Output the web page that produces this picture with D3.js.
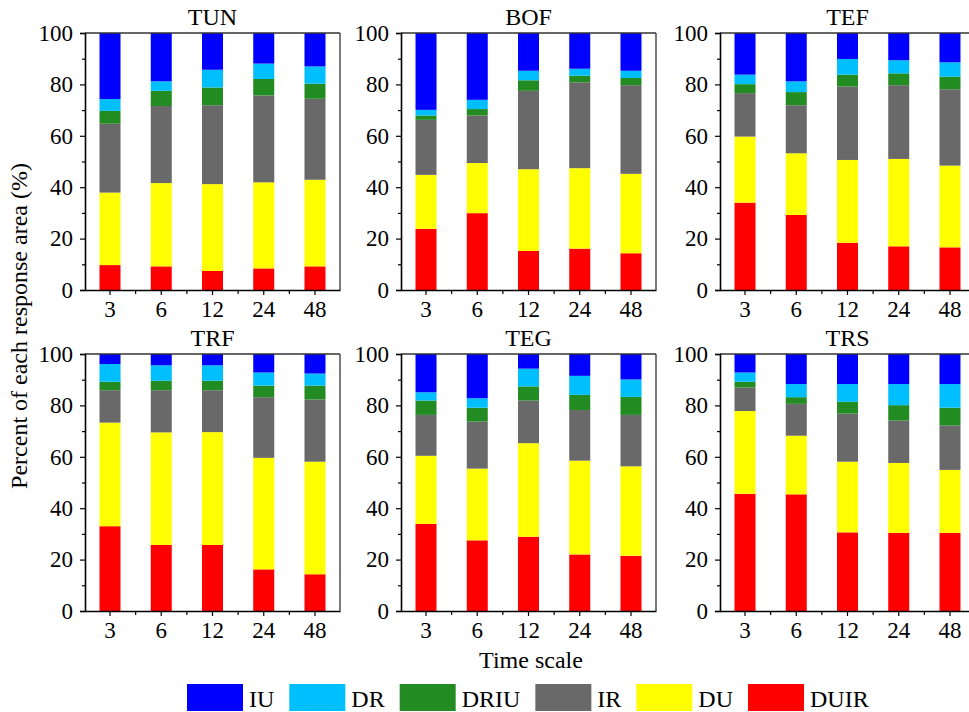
<!DOCTYPE html>
<html>
<head>
<meta charset="utf-8">
<script src="https://cdn.jsdelivr.net/npm/d3@7"></script>
<style>
  body { margin: 0; background: #fff; }
  svg { display: block; }
  text { font-family: "Liberation Serif", "Times New Roman", serif; fill: #000; }
</style>
</head>
<body>
<svg id="chart" width="969" height="712"></svg>
<script>
// ---------------- DATA ----------------
const timeScales = ["3", "6", "12", "24", "48"];
const panels = ["TUN", "BOF", "TEF", "TRF", "TEG", "TRS"];
// stacking order bottom -> top
const seriesNames = ["DUIR", "DU", "IR", "DRIU", "DR", "IU"];
const legendOrder = ["IU", "DR", "DRIU", "IR", "DU", "DUIR"];
const seriesColors = ["#ff0000", "#ffff00", "#696969", "#228b22", "#00bfff", "#0000ff"];
const yTicks = [0, 20, 40, 60, 80, 100];

// values (%) per panel, per series, per time scale
const TUN = {
  DUIR: [9.7, 9.2, 7.4, 8.4, 9.2],
  DU:   [28.2, 32.4, 33.8, 33.5, 33.7],
  IR:   [26.8, 30.0, 30.7, 33.8, 31.5],
  DRIU: [5.0, 5.9, 6.9, 6.4, 5.9],
  DR:   [4.6, 3.7, 6.9, 6.0, 6.7],
  IU:   [25.7, 18.8, 14.3, 11.9, 13.0]
};
const BOF = {
  DUIR: [23.8, 29.9, 15.2, 16.1, 14.3],
  DU:   [21.0, 19.5, 31.8, 31.3, 30.9],
  IR:   [21.4, 18.5, 30.5, 33.4, 34.5],
  DRIU: [1.7, 2.5, 4.1, 2.6, 2.8],
  DR:   [2.2, 3.6, 3.7, 2.7, 2.8],
  IU:   [29.9, 26.0, 14.7, 13.9, 14.7]
};
const TEF = {
  DUIR: [34.0, 29.2, 18.4, 17.0, 16.6],
  DU:   [25.7, 24.0, 32.2, 34.0, 31.8],
  IR:   [16.9, 18.7, 28.6, 28.7, 29.7],
  DRIU: [3.5, 5.1, 4.6, 4.6, 4.9],
  DR:   [3.7, 4.2, 6.1, 5.1, 5.6],
  IU:   [16.2, 18.8, 10.1, 10.6, 11.4]
};
const TRF = {
  DUIR: [33.0, 25.7, 25.7, 16.2, 14.3],
  DU:   [40.3, 43.8, 43.9, 43.4, 43.8],
  IR:   [12.6, 16.4, 16.3, 23.6, 24.2],
  DRIU: [3.3, 3.7, 3.7, 4.5, 5.4],
  DR:   [6.9, 6.0, 6.0, 5.1, 4.7],
  IU:   [3.9, 4.4, 4.4, 7.2, 7.6]
};
const TEG = {
  DUIR: [33.9, 27.5, 28.9, 22.0, 21.5],
  DU:   [26.5, 27.9, 36.4, 36.5, 34.8],
  IR:   [15.9, 18.3, 16.6, 19.7, 20.0],
  DRIU: [5.6, 5.4, 5.5, 5.9, 7.0],
  DR:   [3.2, 3.7, 6.9, 7.4, 6.8],
  IU:   [14.9, 17.2, 5.7, 8.5, 9.9]
};
const TRS = {
  DUIR: [45.6, 45.4, 30.6, 30.4, 30.4],
  DU:   [32.2, 22.8, 27.5, 27.2, 24.5],
  IR:   [9.2, 12.4, 18.7, 16.5, 17.3],
  DRIU: [2.2, 2.6, 4.6, 6.0, 6.9],
  DR:   [3.6, 5.1, 6.9, 8.2, 9.2],
  IU:   [7.2, 11.7, 11.7, 11.7, 11.7]
};
const panelData = [TUN, BOF, TEF, TRF, TEG, TRS];

// ---------------- LAYOUT ----------------
const svg = d3.select("#chart");
const colLefts = [85, 401, 720];
const rowTops = [33, 354];
const pw = 255, ph = 257;
const color = d3.scaleOrdinal().domain(seriesNames).range(seriesColors);

panels.forEach((name, i) => {
  const left = colLefts[i % 3], top = rowTops[Math.floor(i / 3)];
  const g = svg.append("g").attr("transform", `translate(${left},${top})`);
  const x = d3.scaleBand().domain(timeScales).range([0, pw]).paddingInner(0.59).paddingOuter(0.283);
  const y = d3.scaleLinear().domain([0, 100]).range([ph, 0]);
  const d = panelData[i];
  const rows = timeScales.map((t, k) => {
    const r = { t };
    seriesNames.forEach(s => r[s] = d[s][k]);
    return r;
  });
  const stacked = d3.stack().keys(seriesNames)(rows);

  g.selectAll("g.layer").data(stacked).enter().append("g")
    .attr("fill", s => color(s.key))
    .selectAll("rect").data(s => s).enter().append("rect")
    .attr("x", v => x(v.data.t))
    .attr("width", x.bandwidth())
    .attr("y", v => y(v[1]))
    .attr("height", v => y(v[0]) - y(v[1]));

  // frame (top & right)
  g.append("line").attr("x1", 0).attr("x2", pw).attr("y1", 0).attr("y2", 0)
    .attr("stroke", "#333").attr("stroke-width", 1.3);
  g.append("line").attr("x1", pw).attr("x2", pw).attr("y1", 0).attr("y2", ph)
    .attr("stroke", "#333").attr("stroke-width", 1.3);

  const yAxis = g.append("g").call(d3.axisLeft(y).tickValues(yTicks).tickSize(5).tickPadding(7).tickFormat(d3.format("d")));
  g.append("g").call(d3.axisLeft(y).tickValues(d3.range(10, 100, 20)).tickSize(3).tickFormat(""))
    .select(".domain").remove();
  const xAxis = g.append("g").attr("transform", `translate(0,${ph})`)
    .call(d3.axisBottom(x).tickSize(5).tickPadding(6).tickSizeOuter(0));
  const step = x.step();
  const bounds = timeScales.slice(1).map(t => x(t) + x.bandwidth() / 2 - step / 2);
  g.append("g").attr("transform", `translate(0,${ph})`)
    .selectAll("line").data(bounds).enter().append("line")
    .attr("x1", b => b).attr("x2", b => b).attr("y1", 0).attr("y2", 4)
    .attr("stroke", "#000").attr("stroke-width", 1.2);

  [yAxis, xAxis].forEach(a => {
    a.selectAll(".domain").attr("stroke", "#000").attr("stroke-width", 1.6);
    a.selectAll(".tick text").style("font-family", '"Liberation Serif", serif').style("font-size", "23px").attr("fill", "#000");
  });
  g.selectAll(".tick line").attr("stroke", "#000").attr("stroke-width", 1.2);

  g.append("text").attr("x", pw / 2).attr("y", -8).attr("text-anchor", "middle")
    .style("font-size", "24px").text(name);
});

svg.append("text").attr("transform", "translate(27,326) rotate(-90)")
  .attr("text-anchor", "middle").style("font-size", "24px")
  .text("Percent of each response area (%)");
svg.append("text").attr("x", 531).attr("y", 668).attr("text-anchor", "middle")
  .style("font-size", "24px").text("Time scale");

const lg = svg.append("g").attr("transform", "translate(187,684)");
let lx = 0;
legendOrder.forEach(name => {
  const item = lg.append("g").attr("transform", `translate(${lx},0)`);
  item.append("rect").attr("width", 56).attr("height", 27).attr("fill", color(name));
  const t = item.append("text").attr("x", 62).attr("y", 23).style("font-size", "24px").text(name);
  lx += 62 + t.node().getComputedTextLength() + 15;
});
</script>
</body>
</html>
